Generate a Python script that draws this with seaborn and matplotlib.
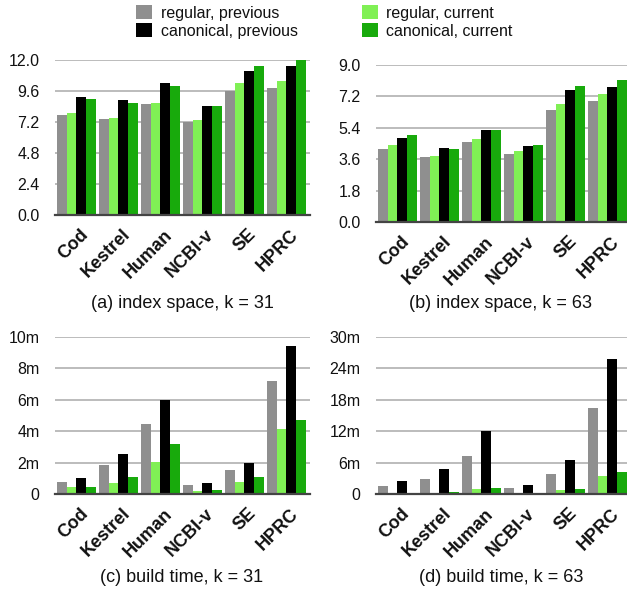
import matplotlib
matplotlib.use("Agg")
import matplotlib.pyplot as plt
import matplotlib.ticker as mticker
import matplotlib.transforms as mtransforms
from matplotlib.patches import Patch
import seaborn as sns
import pandas as pd

datasets = ["Cod", "Kestrel", "Human", "NCBI-v", "SE", "HPRC"]
variants = ["regular, previous", "regular, current", "canonical, previous", "canonical, current"]

# (a) index space, k = 31
space31_reg_prev = [7.74, 7.43, 8.57, 7.17, 9.63, 9.86]
space31_reg_cur = [7.90, 7.48, 8.65, 7.35, 10.22, 10.37]
space31_can_prev = [9.11, 8.90, 10.19, 8.41, 11.17, 11.54]
space31_can_cur = [9.00, 8.65, 9.99, 8.46, 11.54, 11.97]

# (b) index space, k = 63
space63_reg_prev = [4.21, 3.73, 4.60, 3.89, 6.44, 6.93]
space63_reg_cur = [4.44, 3.81, 4.75, 4.06, 6.78, 7.32]
space63_can_prev = [4.81, 4.27, 5.29, 4.37, 7.59, 7.72]
space63_can_cur = [4.96, 4.21, 5.29, 4.42, 7.78, 8.14]

# (c) build time (minutes), k = 31
time31_reg_prev = [0.74, 1.84, 4.47, 0.57, 1.50, 7.20]
time31_reg_cur = [0.42, 0.68, 2.01, 0.21, 0.74, 4.13]
time31_can_prev = [1.02, 2.52, 5.97, 0.72, 1.99, 9.41]
time31_can_cur = [0.42, 1.10, 3.18, 0.25, 1.10, 4.72]

# (d) build time (minutes), k = 63
time63_reg_prev = [1.53, 2.86, 7.31, 1.14, 3.88, 16.5]
time63_reg_cur = [0.05, 0.20, 0.89, 0.06, 0.76, 3.37]
time63_can_prev = [2.42, 4.83, 12.0, 1.78, 6.42, 25.8]
time63_can_cur = [0.20, 0.38, 1.08, 0.06, 0.95, 4.26]

captions = ["(a) index space, k = 31", "(b) index space, k = 63",
            "(c) build time, k = 31", "(d) build time, k = 63"]

palette = {"regular, previous": "#8f8f8f", "regular, current": "#80f055",
           "canonical, previous": "#000000", "canonical, current": "#18aa0c"}


def frame(rp, rc, cp, cc):
    rows = []
    for series, name in zip([rp, rc, cp, cc], variants):
        for d, v in zip(datasets, series):
            rows.append({"dataset": d, "variant": name, "value": v})
    return pd.DataFrame(rows)


panels = [
    (frame(space31_reg_prev, space31_reg_cur, space31_can_prev, space31_can_cur), 12.0, 2.4, "space"),
    (frame(space63_reg_prev, space63_reg_cur, space63_can_prev, space63_can_cur), 9.0, 1.8, "space"),
    (frame(time31_reg_prev, time31_reg_cur, time31_can_prev, time31_can_cur), 10, 2, "time"),
    (frame(time63_reg_prev, time63_reg_cur, time63_can_prev, time63_can_cur), 30, 6, "time"),
]

sns.set_theme(style="white")
plt.rcParams["font.family"] = ["Liberation Sans", "DejaVu Sans"]

W, H = 627, 595
fig = plt.figure(figsize=(W / 100, H / 100), dpi=100)

# axes boxes in pixels: left, top, right, bottom
boxes = [(55, 60, 310, 215), (376, 65, 631, 222), (55, 337, 310, 494), (376, 337, 631, 494)]
cap_y = [303, 303, 578, 578]
cap_x = [182, 501, 182, 501]

for (df, ymax, step, kind), box, cap, cx, cy in zip(panels, boxes, captions, cap_x, cap_y):
    l, t, r, b = box
    ax = fig.add_axes([l / W, 1 - b / H, (r - l) / W, (b - t) / H])
    sns.barplot(data=df, x="dataset", y="value", hue="variant", order=datasets,
                hue_order=variants, palette=palette, width=0.93, gap=0,
                saturation=1, errorbar=None, legend=False, ax=ax,
                edgecolor="none", linewidth=0)
    ax.set_xlim(-0.51, 5.56)
    ax.set_ylim(0, ymax)
    ticks = [i * step for i in range(int(round(ymax / step)) + 1)]
    ax.set_yticks(ticks)
    if kind == "space":
        ax.yaxis.set_major_formatter(mticker.FuncFormatter(lambda v, p: f"{v:.1f}"))
    else:
        ax.yaxis.set_major_formatter(mticker.FuncFormatter(
            lambda v, p: "0" if abs(v) < 1e-9 else f"{v:.0f}m"))
    ax.set_axisbelow(True)
    ax.yaxis.grid(True, color="#b0b0b0", linewidth=1.2)
    ax.xaxis.grid(False)
    for s in ["left", "right", "top"]:
        ax.spines[s].set_visible(False)
    ax.spines["bottom"].set_color("#444444")
    ax.spines["bottom"].set_linewidth(1.6)
    ax.tick_params(axis="y", length=0, pad=11, labelsize=11.5, labelcolor="#111111")
    ax.tick_params(axis="x", length=0, pad=8)
    ax.set_xlabel("")
    ax.set_ylabel("")
    ax.set_xticks(range(len(datasets)))
    ax.set_xticklabels(datasets, rotation=45, ha="right", rotation_mode="anchor",
                       fontsize=13, fontweight="bold", color="#111111")
    offset = mtransforms.ScaledTranslation(3 / 100, 0, fig.dpi_scale_trans)
    for lab in ax.get_xticklabels():
        lab.set_transform(lab.get_transform() + offset)
    fig.text(cx / W, 1 - cy / H, cap, ha="center", va="center", fontsize=13, color="#111111")

handles = [Patch(facecolor=palette[v], edgecolor="none") for v in
           ["regular, previous", "canonical, previous", "regular, current", "canonical, current"]]
labels = ["regular, previous", "canonical, previous", "regular, current", "canonical, current"]
fig.legend(handles, labels, loc="upper left", bbox_to_anchor=(136 / W, 1 - 5 / H), ncol=2,
           frameon=False, fontsize=11.5, handlelength=1.0, handleheight=1.0,
           handletextpad=0.55, columnspacing=4.0, labelspacing=0.15, borderpad=0,
           borderaxespad=0, labelcolor="#111111")

fig.savefig("out.png", dpi=100)
